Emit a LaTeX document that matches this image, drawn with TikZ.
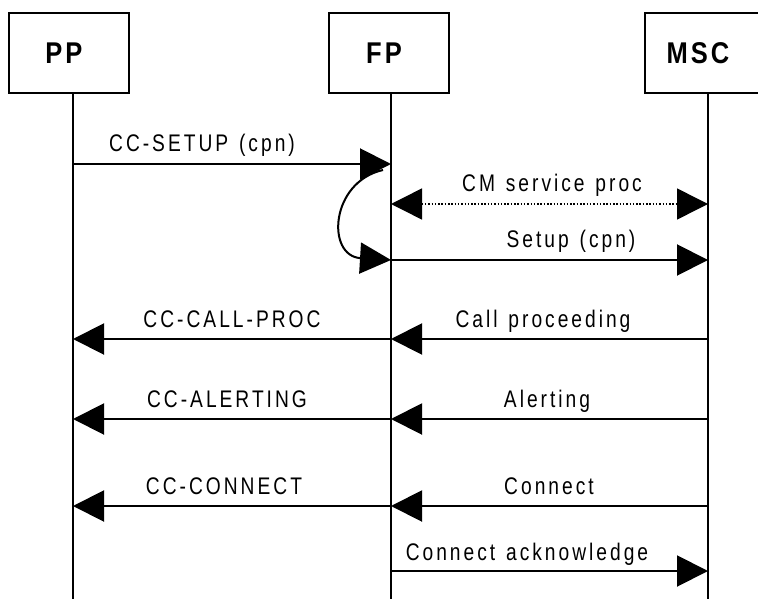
\documentclass[tikz,border=0pt]{standalone}
\usepackage{fontspec}
\setmainfont{Liberation Sans}
\newfontfamily\lblfont[FakeStretch=0.8,LetterSpace=12.5,WordSpace=1.3]{Liberation Sans}
\newfontfamily\entfont[FakeStretch=0.85,LetterSpace=10]{Liberation Sans}
\usetikzlibrary{arrows.meta}
\begin{document}
\begin{tikzpicture}[x=1pt,y=-1pt,
  entity/.style={draw,line width=2pt,minimum width=120pt,minimum height=80pt,inner sep=0pt},
  entlbl/.style={inner sep=0pt,font=\entfont\bfseries\fontsize{30}{30}\selectfont},
  life/.style={line width=1.5pt},
  msg/.style={line width=2pt,-{Triangle[length=31pt,width=31pt]}},
  dmsg/.style={line width=1.5pt,dash pattern=on 1.5pt off 1.8pt,
    {Triangle[length=31pt,width=31pt]}-{Triangle[length=31pt,width=31pt]}},
  lbl/.style={anchor=base,inner sep=0pt,font=\lblfont\fontsize{24}{24}\selectfont}]
\useasboundingbox (0,0) rectangle (758,599);
% entities
\node[entity] (pp) at (69,53) {};
\node[entity] (fp) at (389,53) {};
\node[entity] (msc) at (705,53) {};
\node[entlbl] (ppl) at ([xshift=-5pt]pp.center) {PP};
\node[entlbl] (fpl) at ([xshift=-5pt]fp.center) {FP};
\node[entlbl] (mscl) at ([xshift=-7pt]msc.center) {MSC};
% lifeline coordinates
\coordinate (ppb) at (73,599);
\coordinate (fpb) at (391,599);
\coordinate (mscb) at (708,599);
\draw[life] (73,93) coordinate (ppt) -- (ppb);
\draw[life] (391,93) coordinate (fpt) -- (fpb);
\draw[life] (708,93) coordinate (msct) -- (mscb);
% message points
\coordinate (pp1) at (73,164);  \coordinate (fp1) at (391,164);
\coordinate (fp2) at (391,204); \coordinate (msc2) at (708,204);
\coordinate (fp3) at (391,260); \coordinate (msc3) at (708,260);
\coordinate (pp4) at (73,339);  \coordinate (fp4) at (391,339); \coordinate (msc4) at (708,339);
\coordinate (pp5) at (73,419);  \coordinate (fp5) at (391,419); \coordinate (msc5) at (708,419);
\coordinate (pp6) at (73,506);  \coordinate (fp6) at (391,506); \coordinate (msc6) at (708,506);
\coordinate (fp7) at (391,571); \coordinate (msc7) at (708,571);
\coordinate (cs) at (383,170);
% messages
\draw[msg] (pp1) -- (fp1);
\draw[dmsg] (fp2) -- (msc2);
\draw[msg] (fp3) -- (msc3);
\draw[msg] (cs) .. controls (330,182) and (326,256) .. (fp3);
\draw[msg] (fp4) -- (pp4);
\draw[msg] (msc4) -- (fp4);
\draw[msg] (fp5) -- (pp5);
\draw[msg] (msc5) -- (fp5);
\draw[msg] (fp6) -- (pp6);
\draw[msg] (msc6) -- (fp6);
\draw[msg] (fp7) -- (msc7);
% labels
\node[lbl] (l1) at (202,152) {CC-SETUP (cpn)};
\node[lbl] (l2) at (552,192) {CM service proc};
\node[lbl] (l3) at (571,247) {Setup (cpn)};
\node[lbl] (l4) at (232,327) {CC-CALL-PROC};
\node[lbl] (l5) at (543,327) {Call proceeding};
\node[lbl] (l6) at (227,407) {CC-ALERTING};
\node[lbl] (l7) at (547,407) {Alerting};
\node[lbl] (l8) at (224,494) {CC-CONNECT};
\node[lbl] (l9) at (549,494) {Connect};
\node[lbl] (l10) at (527,560) {Connect acknowledge};
\end{tikzpicture}
\end{document}
